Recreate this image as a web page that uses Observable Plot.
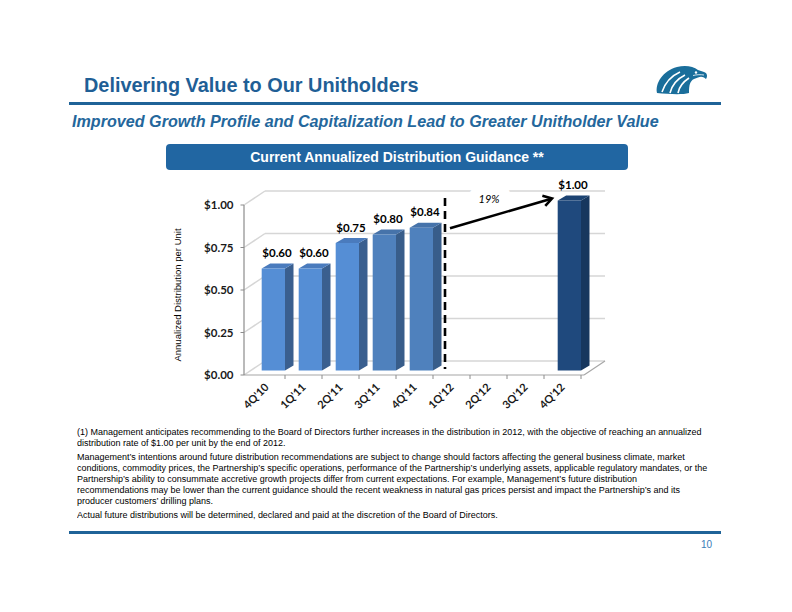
<!DOCTYPE html>
<html>
<head>
<meta charset="utf-8">
<script src="https://cdn.jsdelivr.net/npm/d3@7"></script>
<script src="https://cdn.jsdelivr.net/npm/@observablehq/plot@0.6"></script>
<style>
  html, body { margin: 0; padding: 0; background: #fff; }
  #slide { position: relative; width: 792px; height: 612px; overflow: hidden; background: #fff;
           font-family: "Liberation Sans", Arial, sans-serif; }
  .title { position: absolute; left: 84px; top: 74px; white-space: nowrap; transform-origin: 0 0; transform: scaleX(0.946);
           font: bold 21px/21px "Liberation Sans", Arial, sans-serif; color: #1f5f96; }
  .rule { position: absolute; left: 69px; width: 652px; height: 3px; background: #1f6398; }
  .subtitle { position: absolute; left: 72px; top: 113px; white-space: nowrap; transform-origin: 0 0; transform: scaleX(0.978);
              font: italic bold 16.5px/17px "Liberation Sans", Arial, sans-serif; color: #24679c; }
  .banner { position: absolute; left: 166px; top: 144px; width: 462px; height: 26px; border-radius: 4px;
            background: #2166a2; color: #fff; text-align: center;
            font: bold 14px/27px "Liberation Sans", Arial, sans-serif; }
  #chart { position: absolute; left: 160px; top: 175px; }
  .ytitle { position: absolute; left: 177px; top: 295px; white-space: nowrap; color: #000;
            font: 9.5px/11px "Liberation Sans", Arial, sans-serif; transform: translate(-50%, -50%) rotate(-90deg); }
  .notes { position: absolute; left: 77px; color: #000; white-space: nowrap; transform-origin: 0 0; transform: scaleX(0.937);
           font: 9.6px/11px "Liberation Sans", Arial, sans-serif; }
  .page { position: absolute; left: 701px; top: 539px; color: #3a7db8;
          font: 10px/11px "Liberation Sans", Arial, sans-serif; }
  #logo { position: absolute; left: 652px; top: 64px; }
</style>
</head>
<body>
<div id="slide">
  <div class="title">Delivering Value to Our Unitholders</div>
  <svg id="logo" width="56" height="32" viewBox="0 0 56 32">
    <path d="M5 29 C3 19 11 7 25 3 C33 1 41 2 46 6 L52 8 C55 9 56 12 54 15 L52 13.5 C50 12.5 48 12.5 46 13.5 L42 15 C38 17 37 21 37 29 C30 31 16 30 5 29 Z" fill="#1a6e9b"/>
    <path d="M28 8 C19 12 13 19 10 28 M33 11 C25 15 20 21 18 29 M37 14 C31 18 27 23 26 29" stroke="#fff" stroke-width="1.6" fill="none"/>
    <circle cx="44" cy="8.5" r="1.2" fill="#fff"/>
    <path d="M41 11.5 C45 10.5 49 10.5 52 11" stroke="#fff" stroke-width="0.8" fill="none"/>
  </svg>
  <div class="rule" style="top:102px"></div>
  <div class="subtitle">Improved Growth Profile and Capitalization Lead to Greater Unitholder Value</div>
  <div class="banner">Current Annualized Distribution Guidance **</div>
  <div id="chart"></div>
  <div class="ytitle">Annualized Distribution per Unit</div>
  <div class="notes" style="top:426px">(1) Management anticipates recommending to the Board of Directors further increases in the distribution in 2012, with the objective of reaching an annualized<br>distribution rate of $1.00 per unit by the end of 2012.</div>
  <div class="notes" style="top:450.5px">Management’s intentions around future distribution recommendations are subject to change should factors affecting the general business climate, market<br>conditions, commodity prices, the Partnership’s specific operations, performance of the Partnership’s underlying assets, applicable regulatory mandates, or the<br>Partnership’s ability to consummate accretive growth projects differ from current expectations. For example, Management’s future distribution<br>recommendations may be lower than the current guidance should the recent weakness in natural gas prices persist and impact the Partnership’s and its<br>producer customers’ drilling plans.</div>
  <div class="notes" style="top:509px">Actual future distributions will be determined, declared and paid at the discretion of the Board of Directors.</div>
  <div class="rule" style="top:531px"></div>
  <div class="page">10</div>
</div>
<script>
// Quarters on the category axis
const quarters = ["4Q'10", "1Q'11", "2Q'11", "3Q'11", "4Q'11", "1Q'12", "2Q'12", "3Q'12", "4Q'12"];
// Quarters that carry a distribution bar, and their annualized distribution ($ per unit)
const barQuarters = ["4Q'10", "1Q'11", "2Q'11", "3Q'11", "4Q'11", "4Q'12"];
const distributions = [0.60, 0.60, 0.75, 0.80, 0.84, 1.00];
const barShades = ["light", "light", "light", "mid", "mid", "target"];
// Value axis ticks
const yTicks = [0, 0.25, 0.5, 0.75, 1.0];
// Growth annotation between the last actual and the year-end target
const growthLabel = "19%";
const growthFrom = "4Q'11";
const growthTo = "4Q'12";

const palette = {
  light:  {front: "#558ed5", top: "#4a7bbd", side: "#3a5f8f"},
  mid:    {front: "#4f81bd", top: "#4673aa", side: "#385d8a"},
  target: {front: "#1f497d", top: "#1c4372", side: "#17375e"}
};
const money = d3.format("$.2f");
const wall = [21, -14];     // depth of the chart's back wall
const barDepth = [8.5, -5]; // depth of each bar

// Back wall, left wall, floor, axis lines and tick marks
function frame3d(index, scales, values, dims) {
  const {x, y} = scales;
  const x0 = dims.marginLeft, x1 = dims.width - dims.marginRight;
  const g = d3.create("svg:g").attr("fill", "none");
  for (const t of yTicks) {
    const yy = y(t);
    g.append("line").attr("x1", x0).attr("y1", yy).attr("x2", x0 + wall[0]).attr("y2", yy + wall[1])
      .attr("stroke", "#d6d6d6").attr("stroke-width", 1.5);
    g.append("line").attr("x1", x0 + wall[0]).attr("y1", yy + wall[1]).attr("x2", x1 + wall[0]).attr("y2", yy + wall[1])
      .attr("stroke", "#d6d6d6").attr("stroke-width", 1.5);
    g.append("line").attr("x1", x0 - 3.5).attr("y1", yy).attr("x2", x0).attr("y2", yy)
      .attr("stroke", "#8c8c8c").attr("stroke-width", 1);
  }
  const y0 = y(0);
  g.append("line").attr("x1", x1).attr("y1", y0).attr("x2", x1 + wall[0]).attr("y2", y0 + wall[1])
    .attr("stroke", "#a6a6a6").attr("stroke-width", 1.2);
  g.append("line").attr("x1", x0).attr("y1", y0).attr("x2", x1).attr("y2", y0)
    .attr("stroke", "#a6a6a6").attr("stroke-width", 1.2);
  g.append("line").attr("x1", x0).attr("y1", y(1)).attr("x2", x0).attr("y2", y0)
    .attr("stroke", "#8c8c8c").attr("stroke-width", 1.2);
  const step = x(quarters[1]) - x(quarters[0]);
  for (const q of quarters) {
    const xb = x(q) + step;
    g.append("line").attr("x1", xb).attr("y1", y0).attr("x2", xb).attr("y2", y0 + 4)
      .attr("stroke", "#8c8c8c").attr("stroke-width", 1);
  }
  return g.node();
}

// Extruded bars: side face, top face, then the front face
function bars3d(index, scales) {
  const {x, y} = scales;
  const step = x(quarters[1]) - x(quarters[0]);
  const inset = step * 0.37, w = step * 0.63, lift = -4.5;
  const [dx, dy] = barDepth;
  const g = d3.create("svg:g");
  barQuarters.forEach((q, i) => {
    const c = palette[barShades[i]];
    const left = x(q) + inset, right = left + w;
    const top = y(distributions[i]) + lift, bottom = y(0) + lift;
    g.append("path").attr("fill", c.side)
      .attr("d", `M${right},${top}L${right + dx},${top + dy}L${right + dx},${bottom + dy}L${right},${bottom}Z`);
    g.append("path").attr("fill", c.top)
      .attr("d", `M${left},${top}L${right},${top}L${right + dx},${top + dy}L${left + dx},${top + dy}Z`);
    g.append("rect").attr("fill", c.front)
      .attr("x", left).attr("y", top).attr("width", w).attr("height", bottom - top);
  });
  return g.node();
}

// Dashed divider between actuals and guidance, and the growth arrow
function guidance(index, scales) {
  const {x, y} = scales;
  const g = d3.create("svg:g");
  const xd = x(quarters[5]) + 12;
  g.append("line").attr("x1", xd).attr("x2", xd).attr("y1", y(1) - 7).attr("y2", y(0) - 6)
    .attr("stroke", "#000").attr("stroke-width", 2.6).attr("stroke-dasharray", "8,5");
  const i0 = barQuarters.indexOf(growthFrom), i1 = barQuarters.indexOf(growthTo);
  const ax1 = x(quarters[5]) + 17, ay1 = y(distributions[i0]) - 4;
  const ax2 = x(growthTo) + 8, ay2 = y(distributions[i1]) - 6.5;
  const ang = Math.atan2(ay2 - ay1, ax2 - ax1), L = 10, spread = 0.55;
  g.append("line").attr("x1", ax1).attr("y1", ay1).attr("x2", ax2 - 1.5 * Math.cos(ang)).attr("y2", ay2 - 1.5 * Math.sin(ang))
    .attr("stroke", "#000").attr("stroke-width", 2.6);
  g.append("path").attr("fill", "none").attr("stroke", "#000").attr("stroke-width", 2.6)
    .attr("stroke-linejoin", "miter").attr("stroke-linecap", "butt")
    .attr("d", `M${ax2 - L * Math.cos(ang - spread)},${ay2 - L * Math.sin(ang - spread)}L${ax2},${ay2}L${ax2 - L * Math.cos(ang + spread)},${ay2 - L * Math.sin(ang + spread)}`);
  return g.node();
}

const chart = Plot.plot({
  width: 460,
  height: 250,
  marginLeft: 84,
  marginRight: 36,
  marginTop: 30,
  marginBottom: 50,
  x: {type: "band", domain: quarters, padding: 0},
  y: {domain: [0, 1]},
  style: {fontFamily: "Lato, 'Liberation Sans', sans-serif", color: "#1a1a1a", background: "transparent", overflow: "visible"},
  marks: [
    frame3d,
    Plot.axisY({ticks: yTicks, tickSize: 0, tickPadding: 11, tickFormat: money, label: null,
                fontSize: 11.5, fontWeight: "bold", fill: "#1a1a1a"}),
    Plot.axisX({tickRotate: -45, tickSize: 0, tickPadding: 10, label: null,
                fontSize: 11, fontWeight: "bold", fill: "#1a1a1a"}),
    bars3d,
    Plot.text(distributions, {
      x: (d, i) => barQuarters[i], y: d => d, text: d => money(d),
      dx: 10, dy: -20, fontSize: 11.5, fontWeight: "bold", fill: "#000"
    }),
    Plot.text([growthLabel], {
      x: () => quarters[6], y: () => 1, text: d => d, dy: -6,
      fontSize: 11, fontStyle: "italic", fill: "#000", stroke: "#fff", strokeWidth: 22, strokeLinejoin: "round"
    }),
    guidance
  ]
});
document.getElementById("chart").appendChild(chart);
</script>
</body>
</html>
